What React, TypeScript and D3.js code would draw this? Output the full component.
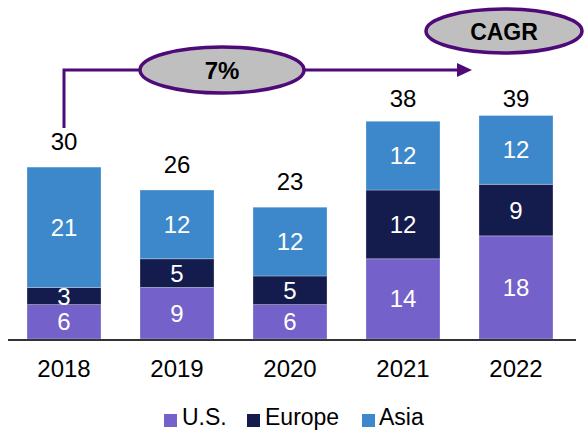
import React from "react";
import * as d3 from "d3";

const years = ["2018", "2019", "2020", "2021", "2022"];
const usValues = [6, 9, 6, 14, 18];
const europeValues = [3, 5, 5, 12, 9];
const asiaValues = [21, 12, 12, 12, 12];
const seriesNames = ["U.S.", "Europe", "Asia"];
const seriesColors = ["#7461C9", "#141B4D", "#3D88CA"];
const cagrLabel = "7%";
const cagrTitle = "CAGR";

const W = 584;
const H = 430;
const FONT = "'Liberation Sans', Arial, Helvetica, sans-serif";

export default function App() {
  const baseline = 339;
  const x = d3.scaleBand<string>().domain(years).range([7.5, 572.5]).paddingInner(0.345).paddingOuter(0.1726);
  const y = d3.scaleLinear().domain([0, 39]).range([baseline, baseline - 39 * 5.73]);

  const rows = years.map((yr, i) => ({ year: yr, "U.S.": usValues[i], Europe: europeValues[i], Asia: asiaValues[i] }));
  const stack = d3.stack<any>().keys(seriesNames);
  const series = stack(rows);
  const totals = years.map((_, i) => usValues[i] + europeValues[i] + asiaValues[i]);

  const arrowY = 70;
  const startX = (x(years[0]) || 0) + x.bandwidth() / 2;
  const arrowEnd = 472;
  const purple = "#4E0A78";

  const legendItems = [
    { swatch: 164, text: 182 },
    { swatch: 247, text: 265 },
    { swatch: 362, text: 379 },
  ];

  return (
    <svg width={W} height={H} style={{ position: "absolute", left: 0, top: 0 }} fontFamily={FONT}>
      <rect width={W} height={H} fill="#fff" />
      {series.map((s, si) =>
        s.map((d, i) => {
          const x0 = x(years[i]) || 0;
          const yTop = y(d[1]);
          const yBot = y(d[0]);
          const v = d[1] - d[0];
          return (
            <g key={`${si}-${i}`}>
              <rect x={x0} y={yTop} width={x.bandwidth()} height={yBot - yTop} fill={seriesColors[si]} stroke="#ffffff" strokeOpacity={0.35} strokeWidth={0.8} />
              <text x={x0 + x.bandwidth() / 2} y={(yTop + yBot) / 2 + 8.5} textAnchor="middle" fill="#fff" fontSize={24}>
                {v}
              </text>
            </g>
          );
        })
      )}
      {totals.map((t, i) => (
        <text key={i} x={(x(years[i]) || 0) + x.bandwidth() / 2} y={Math.max(y(t) - 17, 107)} textAnchor="middle" fill="#000" fontSize={24}>
          {t}
        </text>
      ))}
      <line x1={8} x2={576} y1={baseline + 1} y2={baseline + 1} stroke="#333" strokeWidth={2} />
      {years.map((yr) => (
        <text key={yr} x={(x(yr) || 0) + x.bandwidth() / 2} y={377} textAnchor="middle" fill="#000" fontSize={24}>
          {yr}
        </text>
      ))}
      <path d={`M${startX},128 V${arrowY} H${arrowEnd - 14}`} fill="none" stroke={purple} strokeWidth={3} />
      <path d={`M${arrowEnd - 15},${arrowY - 7} L${arrowEnd},${arrowY} L${arrowEnd - 15},${arrowY + 7} Z`} fill={purple} />
      <ellipse cx={222} cy={70} rx={82} ry={23} fill="#BFBFBF" stroke={purple} strokeWidth={3.5} />
      <text x={222} y={79} textAnchor="middle" fontWeight="bold" fontSize={24} fill="#000">
        {cagrLabel}
      </text>
      <ellipse cx={504} cy={31} rx={78} ry={22} fill="#BFBFBF" stroke={purple} strokeWidth={3.5} />
      <text x={504} y={40} textAnchor="middle" fontWeight="bold" fontSize={23} fill="#000">
        {cagrTitle}
      </text>
      {seriesNames.map((n, i) => (
        <g key={n}>
          <rect x={legendItems[i].swatch} y={414} width={13} height={13} fill={seriesColors[i]} />
          <text x={legendItems[i].text} y={425} fontSize={23} fill="#000">
            {n}
          </text>
        </g>
      ))}
    </svg>
  );
}
